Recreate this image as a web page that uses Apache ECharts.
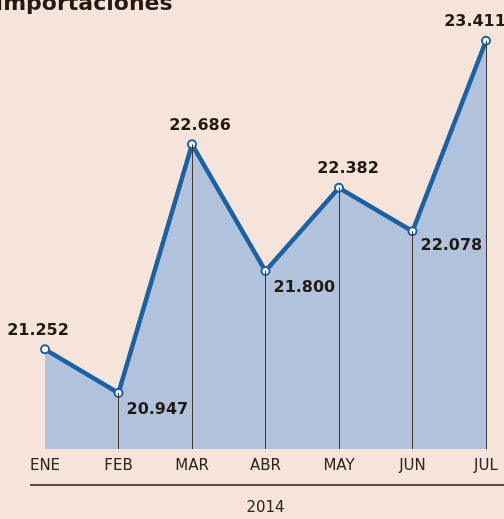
<!DOCTYPE html>
<html>
<head>
<meta charset="utf-8">
<script src="https://cdn.jsdelivr.net/npm/echarts@6/dist/echarts.min.js"></script>
<style>
  html, body { margin: 0; padding: 0; background: #f6e4da; }
  #chart { width: 504px; height: 519px; }
</style>
</head>
<body>
<div id="chart"></div>
<script>
// datos mensuales 2014
var months = ['ENE', 'FEB', 'MAR', 'ABR', 'MAY', 'JUN', 'JUL'];
var imports = [21.252, 20.947, 22.686, 21.800, 22.382, 22.078, 23.411];
var yearLabel = '2014';

var yMin = 20.555;
var yMax = 23.5;

// donde va cada etiqueta (arriba o a la derecha-abajo)
var labelAt = [
  { position: 'top', offset: [-7, 0] },
  { position: 'right', offset: [-3, 17] },
  { position: 'top', offset: [8, 0] },
  { position: 'right', offset: [-3, 17] },
  { position: 'top', offset: [9, 0] },
  { position: 'right', offset: [-3, 15] },
  { position: 'top', offset: [-11, 0] }
];

var dom = document.getElementById('chart');
var myChart = echarts.init(dom, null, { renderer: 'canvas' });

var fnt = '"DejaVu Sans", sans-serif';

var points = imports.map(function (v, i) {
  return {
    value: v,
    label: {
      show: true,
      position: labelAt[i].position,
      offset: labelAt[i].offset,
      distance: 6
    }
  };
});

var drops = [];
for (var i = 1; i < imports.length; i++) {
  drops.push([
    { coord: [i, yMin] },
    { coord: [i, imports[i]] }
  ]);
}

var option = {
  backgroundColor: '#f6e4da',
  animation: false,
  title: {
    text: 'Importaciones',
    left: -10,
    top: -12,
    textStyle: {
      fontFamily: fnt,
      fontWeight: 'bold',
      fontSize: 22,
      color: '#231a15'
    }
  },
  grid: {
    left: 45,
    right: 18,
    top: 28,
    bottom: 70,
    outerBoundsMode: 'none'
  },
  xAxis: {
    type: 'category',
    data: months,
    boundaryGap: false,
    axisLine: { show: false },
    axisTick: { show: false },
    axisLabel: {
      margin: 10,
      fontFamily: fnt,
      fontSize: 15,
      color: '#2b2420'
    },
    name: yearLabel,
    nameLocation: 'middle',
    nameGap: 52,
    nameTextStyle: {
      fontFamily: fnt,
      fontSize: 15,
      color: '#2b2420'
    }
  },
  yAxis: {
    type: 'value',
    min: yMin,
    max: yMax,
    show: false,
    splitLine: { show: false }
  },
  graphic: [
    {
      type: 'line',
      shape: { x1: 30, y1: 485, x2: 504, y2: 485 },
      style: { stroke: '#5a4e48', lineWidth: 2 }
    }
  ],
  series: [
    {
      name: 'Importaciones',
      type: 'line',
      data: points,
      symbol: 'circle',
      symbolSize: 8,
      z: 5,
      lineStyle: { color: '#1b62a5', width: 4.5 },
      itemStyle: { color: '#ffffff', borderColor: '#1b62a5', borderWidth: 2 },
      areaStyle: { color: '#b1c3dc', opacity: 1, origin: 'start' },
      label: {
        formatter: function (p) { return p.value.toFixed(3); },
        fontFamily: fnt,
        fontWeight: 'bold',
        fontSize: 16,
        color: '#231a15'
      },
      markLine: {
        silent: true,
        symbol: 'none',
        z: 6,
        label: { show: false },
        lineStyle: { color: '#3f3632', width: 1, type: 'solid' },
        data: drops
      }
    }
  ]
};

myChart.setOption(option);
</script>
</body>
</html>
